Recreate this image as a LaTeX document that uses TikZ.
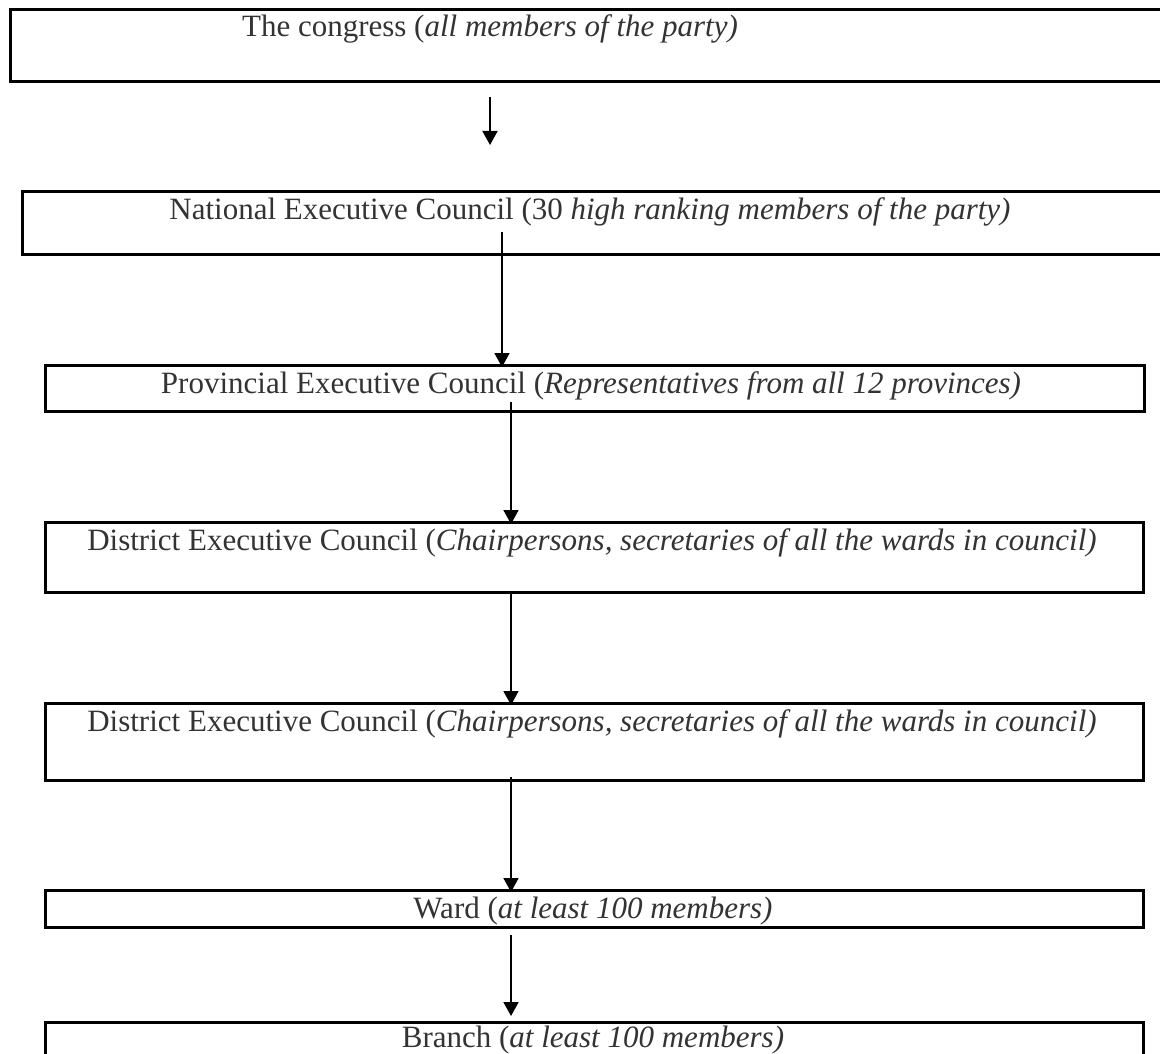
\documentclass[tikz,border=0pt]{standalone}
\usepackage{fontspec}
\setmainfont{Liberation Serif}
\usetikzlibrary{arrows.meta}
\begin{document}
\begin{tikzpicture}[x=1pt,y=-1pt,
  box/.style={draw=black, line width=2.6pt, rectangle, inner sep=0pt, anchor=north west},
  lbl/.style={anchor=base, inner sep=0pt, text=black!80, font=\fontsize{31}{37}\selectfont},
  arr/.style={draw=black, line width=1.8pt, -{Triangle[width=15pt,length=14pt]}}]
\useasboundingbox (0,0) rectangle (1160,1054);
\clip (0,0) rectangle (1160,1054);
\fill[white] (0,0) rectangle (1160,1054);
% boxes
\node[box, minimum width=1200pt, minimum height=72pt] (b1) at (9,8) {};
\node[box, minimum width=1200pt, minimum height=63pt] (b2) at (21,190) {};
\node[box, minimum width=1099pt, minimum height=46pt] (b3) at (44,364) {};
\node[box, minimum width=1098pt, minimum height=70pt] (b4) at (44,521) {};
\node[box, minimum width=1098pt, minimum height=77pt] (b5) at (44,702) {};
\node[box, minimum width=1098pt, minimum height=37pt] (b6) at (44,889) {};
\node[box, minimum width=1098pt, minimum height=90pt] (b7) at (44,1021) {};
% labels
\node[lbl] (t1) at (490,37) {The congress (\textit{all members of the party)}};
\node[lbl] (t2) at (590,219) {National Executive Council (30 \textit{high ranking members of the party)}};
\node[lbl] (t3) at (591,393) {Provincial Executive Council (\textit{Representatives from all 12 provinces)}};
\node[lbl] (t4) at (592,550) {District Executive Council (\textit{Chairpersons, secretaries of all the wards in council)}};
\node[lbl] (t5) at (592,731) {District Executive Council (\textit{Chairpersons, secretaries of all the wards in council)}};
\node[lbl] (t6) at (593,918) {Ward (\textit{at least 100 members)}};
\node[lbl] (t7) at (593,1047) {Branch (\textit{at least 100 members)}};
% arrows
\coordinate (a1s) at (490,97);
\coordinate (a1e) at (490,145);
\coordinate (a2s) at (502,232);
\coordinate (a3s) at (511,402);
\coordinate (a4s) at (511,592);
\coordinate (a5s) at (511,777);
\coordinate (a6s) at (511,935);
\draw[arr] (a1s) -- (a1e);
\draw[arr, shorten >=-3pt] (a2s) -- (a2s |- b3.north);
\draw[arr, shorten >=-3pt] (a3s) -- (a3s |- b4.north);
\draw[arr, shorten >=-3pt] (a4s) -- (a4s |- b5.north);
\draw[arr, shorten >=-3pt] (a5s) -- (a5s |- b6.north);
\draw[arr, shorten >=5pt] (a6s) -- (a6s |- b7.north);
\end{tikzpicture}
\end{document}
